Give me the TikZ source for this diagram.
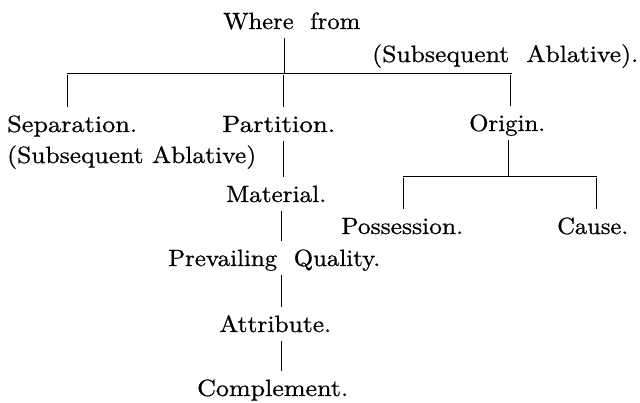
\documentclass[tikz,border=0pt]{standalone}
\usepackage{fontspec}
\setmainfont{lmroman10-regular.otf}[FakeBold=0.7]
\usepackage{graphicx}
\newcommand\fitw[2]{\resizebox{#1pt}{\height}{#2}}
\begin{document}
\begin{tikzpicture}[x=1pt,y=1pt,
  lbl/.style={anchor=base west, inner xsep=0pt, inner ysep=9pt, text height=16pt, text depth=0pt,
    font=\fontsize{23.5}{28}\selectfont},
  ln/.style={line width=0.9pt, black}]
\fill[white] (0,0) rectangle (640,402);
\useasboundingbox (0,0) rectangle (640,402);
% labels
\node[lbl] (where) at (223,373) {\fitw{137}{Where\ \ from}};
\node[lbl] (sa1)   at (372,340) {\fitw{266}{(Subsequent\ \ Ablative).}};
\node[lbl] (sep)   at (7,270)   {\fitw{130}{Separation.}};
\node[lbl] (part)  at (222,270) {\fitw{113}{Partition.}};
\node[lbl] (orig)  at (469,271) {\fitw{76}{Origin.}};
\node[lbl] (sa2)   at (7,239)   {\fitw{249}{(Subsequent Ablative)}};
\node[lbl] (mat)   at (226,200) {\fitw{100}{Material.}};
\node[lbl] (poss)  at (341,168) {\fitw{122}{Possession.}};
\node[lbl] (cause) at (557,168) {\fitw{71}{Cause.}};
\node[lbl] (prev)  at (168,136) {\fitw{212}{Prevailing\ \ Quality.}};
\node[lbl] (attr)  at (219,70)  {\fitw{112}{Attribute.}};
\node[lbl] (comp)  at (197,6)   {\fitw{151}{Complement.}};
% junctions
\coordinate (j0) at (284,329);
\coordinate (jl) at (67,329);
\coordinate (jr) at (512,329);
\coordinate (k0) at (508,226);
\coordinate (kl) at (403,226);
\coordinate (kr) at (597,226);
% connectors
\draw[ln] (j0 |- where.south) -- (j0);
\draw[ln] (jl) -- (jr);
\draw[ln] (67,327) -- (67,327 |- sep.north);
\draw[ln] (283,327) -- (283,327 |- part.north);
\draw[ln] (510,327) -- (510,327 |- orig.north);
\draw[ln] (283,0 |- part.south) -- (283,0 |- mat.north);
\draw[ln] (281,0 |- mat.south) -- (281,0 |- prev.north);
\draw[ln] (281,0 |- prev.south) -- (281,0 |- attr.north);
\draw[ln] (281,0 |- attr.south) -- (281,0 |- comp.north);
\draw[ln] (k0 |- orig.south) -- (k0);
\draw[ln] (kl) -- (kr);
\draw[ln] (403,224) -- (403,224 |- poss.north);
\draw[ln] (596,224) -- (596,224 |- cause.north);
\end{tikzpicture}
\end{document}
